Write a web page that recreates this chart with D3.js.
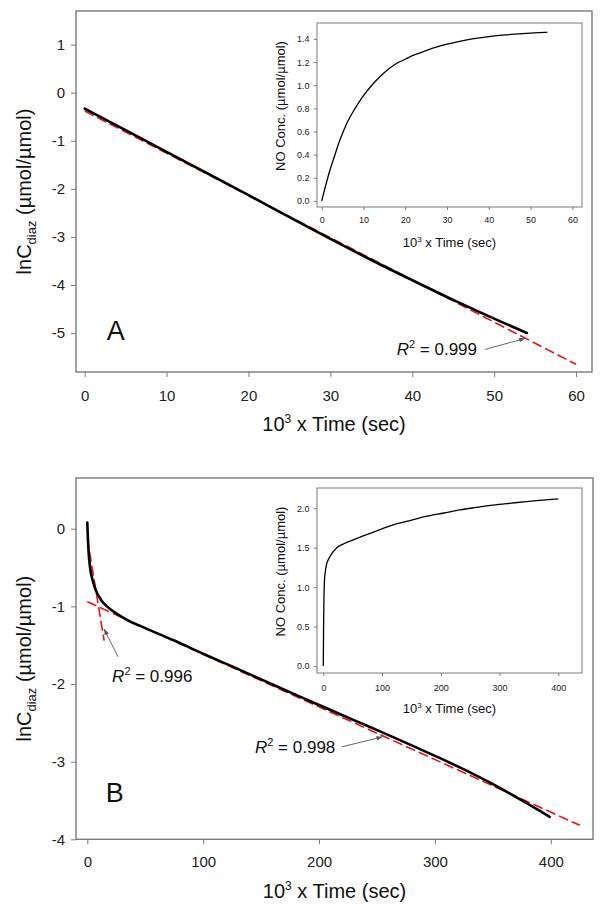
<!DOCTYPE html>
<html><head><meta charset="utf-8">
<script src="https://cdn.jsdelivr.net/npm/d3@7"></script>
<style>body{margin:0;background:#fff} svg{display:block;font-family:"Liberation Sans",Arial,sans-serif}</style>
</head><body><svg id="c" width="604" height="915"></svg>
<script>
// ---------- Panel A data ----------
const timeA = [0, 5, 10, 15, 20, 25, 30, 35, 40, 45, 50, 54];
const lnCA  = [-0.33, -0.78, -1.23, -1.68, -2.13, -2.59, -3.04, -3.48, -3.90, -4.31, -4.70, -5.00];
const fitA_x = [0, 60];
const fitA_y = [-0.38, -5.65];
const insetA_t  = [0, 1, 2, 3, 4, 5, 6, 8, 10, 12, 14, 16, 18, 20, 22, 25, 28, 30, 33, 36, 40, 44, 48, 52, 54];
const insetA_no = [0, 0.14, 0.27, 0.38, 0.49, 0.585, 0.67, 0.80, 0.91, 1.00, 1.075, 1.14, 1.19, 1.225, 1.26, 1.30, 1.335, 1.355, 1.38, 1.40, 1.42, 1.435, 1.446, 1.454, 1.457];
const xTicksA = [0, 10, 20, 30, 40, 50, 60];
const yTicksA = [1, 0, -1, -2, -3, -4, -5];
const insetXTicksA = [0, 10, 20, 30, 40, 50, 60];
const insetYTicksA = [0, 0.2, 0.4, 0.6, 0.8, 1.0, 1.2, 1.4];

// ---------- Panel B data ----------
const timeB = [0, 1, 2.3, 4, 5.5, 7.5, 10, 13, 17, 22, 27, 35, 50, 75, 100, 126, 150, 183, 200, 230, 258, 280, 300, 325, 350, 375, 399];
const lnCB  = [0.08, -0.27, -0.49, -0.63, -0.71, -0.80, -0.87, -0.94, -1.00, -1.06, -1.11, -1.18, -1.28, -1.44, -1.61, -1.78, -1.94, -2.16, -2.27, -2.465, -2.645, -2.79, -2.925, -3.10, -3.29, -3.50, -3.71];
const fitB1_x = [0, 14.5];
const fitB1_y = [-0.12, -1.44];
const fitB2_x = [0, 425];
const fitB2_y = [-0.94, -3.82];
const insetB_t  = [0, 0.5, 1.2, 2, 3.5, 6, 10, 15, 23, 35, 51, 75, 100, 119, 150, 176, 205, 233, 260, 289, 320, 346, 375, 400];
const insetB_no = [0, 0.5, 0.9, 1.08, 1.2, 1.3, 1.37, 1.43, 1.50, 1.55, 1.60, 1.67, 1.74, 1.79, 1.85, 1.90, 1.94, 1.98, 2.01, 2.04, 2.065, 2.085, 2.104, 2.12];
const xTicksB = [0, 100, 200, 300, 400];
const yTicksB = [0, -1, -2, -3, -4];
const insetXTicksB = [0, 100, 200, 300, 400];
const insetYTicksB = [0, 0.5, 1.0, 1.5, 2.0];

// annotation labels
const r2Labels = ["0.999", "0.996", "0.998"];
const panelLabels = ["A", "B"];

const svg = d3.select("#c");
const GRAY = "#7a7a7a";
const hy = f => (d => f(d).replace("\u2212", "-"));

svg.append("defs").append("marker")
  .attr("id", "ah").attr("viewBox", "0 0 10 10").attr("refX", 10).attr("refY", 5)
  .attr("markerWidth", 7).attr("markerHeight", 7).attr("orient", "auto")
  .append("path").attr("d", "M0,1.5 L10,5 L0,8.5 Z").attr("fill", "#555");

function zip(xs, ys) { return xs.map((d, i) => [d, ys[i]]); }

function styleAxis(g, fs) {
  g.select(".domain").remove();
  g.selectAll(".tick line").attr("stroke", GRAY).attr("stroke-width", 1);
  g.selectAll(".tick text").attr("fill", "#222").style("font-size", fs + "px");
}

function xTitle(g, x, y, fs) {
  const t = g.append("text").attr("x", x).attr("y", y).attr("text-anchor", "middle")
    .style("font-size", fs + "px").attr("fill", "#111");
  t.append("tspan").text("10");
  t.append("tspan").text("3").style("font-size", Math.round(fs * 0.6) + "px").attr("dy", -fs * 0.4);
  t.append("tspan").text(" x Time (sec)").attr("dy", fs * 0.4);
}

function r2(g, x, y, val) {
  const t = g.append("text").attr("x", x).attr("y", y).style("font-size", "17px").attr("fill", "#111");
  t.append("tspan").text("R").style("font-style", "italic");
  t.append("tspan").text("2").style("font-size", "11px").attr("dy", -7);
  t.append("tspan").text(" = " + val).attr("dy", 7);
}

function mainPanel(o) {
  const g = svg.append("g");
  const x = d3.scaleLinear().domain(o.xd).range([o.left, o.right]);
  const y = d3.scaleLinear().domain(o.yd).range([o.bottom, o.top]);
  g.append("rect").attr("x", o.left).attr("y", o.top).attr("width", o.right - o.left)
    .attr("height", o.bottom - o.top).attr("fill", "none").attr("stroke", GRAY).attr("stroke-width", 1.4);
  const ax = g.append("g").attr("transform", `translate(0,${o.bottom})`)
    .call(d3.axisBottom(x).tickValues(o.xt).tickSize(5).tickSizeOuter(0).tickPadding(o.xpad).tickFormat(hy(d3.format("d"))));
  styleAxis(ax, 15);
  const ay = g.append("g").attr("transform", `translate(${o.left},0)`)
    .call(d3.axisLeft(y).tickValues(o.yt).tickSize(5).tickSizeOuter(0).tickPadding(6).tickFormat(hy(d3.format("d"))));
  styleAxis(ay, 15);
  const cy = (o.top + o.bottom) / 2;
  const yt = g.append("text").attr("transform", `translate(31,${cy}) rotate(-90)`)
    .attr("text-anchor", "middle").style("font-size", "20px").attr("fill", "#111");
  yt.append("tspan").text("lnC");
  yt.append("tspan").text("diaz").style("font-size", "13px").attr("dy", 5);
  yt.append("tspan").text(" (µmol/µmol)").attr("dy", -5);
  xTitle(g, (o.left + o.right) / 2, o.bottom + 59, 20);

  const line = d3.line().x(d => x(d[0])).y(d => y(d[1]));
  o.fits.forEach(f => {
    g.append("path").datum(zip(f[0], f[1])).attr("d", line).attr("fill", "none")
      .attr("stroke", "#ee1111").attr("stroke-width", 1.6).attr("stroke-dasharray", "10,4");
  });
  g.append("path").datum(zip(o.dx, o.dy)).attr("d", d3.line().curve(d3.curveMonotoneX).x(d => x(d[0])).y(d => y(d[1])))
    .attr("fill", "none").attr("stroke", "#000").attr("stroke-width", 2.6).attr("stroke-linecap", "round");

  o.ann.forEach(a => {
    g.append("line").attr("x1", x(a.from[0])).attr("y1", y(a.from[1])).attr("x2", x(a.to[0])).attr("y2", y(a.to[1]))
      .attr("stroke", "#555").attr("stroke-width", 0.9).attr("marker-end", "url(#ah)");
    r2(g, x(a.text[0]), y(a.text[1]), a.label);
  });
  g.append("text").attr("x", x(o.lab[0])).attr("y", y(o.lab[1])).text(o.labText)
    .style("font-size", "27px").attr("fill", "#111");
}

function insetPanel(o) {
  const g = svg.append("g");
  const x = d3.scaleLinear().domain(o.xd).range([o.left, o.right]);
  const y = d3.scaleLinear().domain(o.yd).range([o.bottom, o.top]);
  g.append("rect").attr("x", o.left).attr("y", o.top).attr("width", o.right - o.left)
    .attr("height", o.bottom - o.top).attr("fill", "none").attr("stroke", GRAY).attr("stroke-width", 1);
  const ax = g.append("g").attr("transform", `translate(0,${o.bottom})`)
    .call(d3.axisBottom(x).tickValues(o.xt).tickSize(3).tickSizeOuter(0).tickPadding(o.xpad).tickFormat(d3.format("d")));
  styleAxis(ax, 9);
  const ay = g.append("g").attr("transform", `translate(${o.left},0)`)
    .call(d3.axisLeft(y).tickValues(o.yt).tickSize(3).tickSizeOuter(0).tickPadding(4.5).tickFormat(d3.format(".1f")));
  styleAxis(ay, 9);
  g.append("text").attr("transform", `translate(285,${(o.top + o.bottom) / 2 - 9}) rotate(-90)`)
    .attr("text-anchor", "middle").style("font-size", "13px").attr("fill", "#111").text("NO Conc. (µmol/µmol)");
  xTitle(g, (o.left + o.right) / 2, o.bottom + 40, 13);
  g.append("path").datum(zip(o.dx, o.dy))
    .attr("d", d3.line().curve(d3.curveMonotoneX).x(d => x(d[0])).y(d => y(d[1])))
    .attr("fill", "none").attr("stroke", "#000").attr("stroke-width", 1.3);
}

mainPanel({
  left: 76, right: 592, top: 11, bottom: 372, xd: [-1.06, 61.95], yd: [-5.81, 1.70],
  xt: xTicksA, yt: yTicksA, xpad: 13,
  dx: timeA, dy: lnCA, fits: [[fitA_x, fitA_y]],
  ann: [{from: [48.9, -5.34], to: [53.8, -5.11], text: [38.1, -5.46], label: r2Labels[0]}],
  lab: [2.7, -5.15], labText: panelLabels[0]
});
insetPanel({
  left: 317, right: 582, top: 23, bottom: 207, xd: [-1.12, 62.3], yd: [-0.052, 1.538],
  xt: insetXTicksA, yt: insetYTicksA, xpad: 7, dx: insetA_t, dy: insetA_no
});
mainPanel({
  left: 76, right: 593, top: 478, bottom: 839.3, xd: [-9.75, 436.4], yd: [-4.0, 0.653],
  xt: xTicksB, yt: yTicksB, xpad: 12,
  dx: timeB, dy: lnCB, fits: [[fitB1_x, fitB1_y], [fitB2_x, fitB2_y]],
  ann: [{from: [26.5, -1.65], to: [14.4, -1.29], text: [21.4, -1.97], label: r2Labels[1]},
        {from: [219.5, -2.81], to: [254.9, -2.68], text: [144.7, -2.89], label: r2Labels[2]}],
  lab: [16, -3.52], labText: panelLabels[1]
});
insetPanel({
  left: 317, right: 582, top: 488, bottom: 673, xd: [-10.7, 440.3], yd: [-0.089, 2.257],
  xt: insetXTicksB, yt: insetYTicksB, xpad: 8.5, dx: insetB_t, dy: insetB_no
});
</script></body></html>
